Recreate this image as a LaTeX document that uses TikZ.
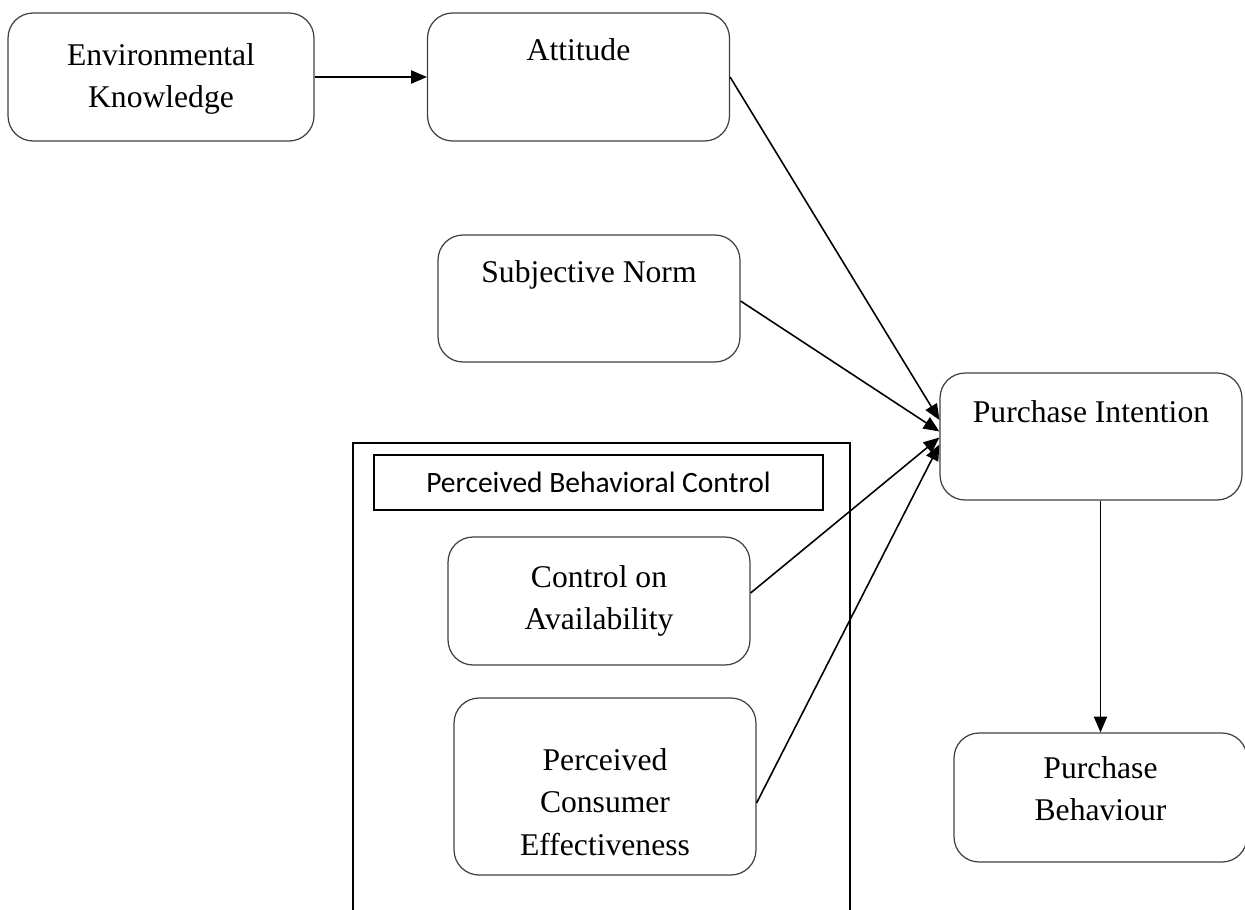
\documentclass[tikz,border=0pt]{standalone}
\usepackage{fontspec}
\setmainfont{Liberation Serif}
\newfontfamily\pbcfont{Carlito}
\usepackage{tikz}
\usetikzlibrary{arrows.meta}

\begin{document}
\begin{tikzpicture}[x=0.02cm,y=-0.02cm,
  box/.style={draw=black!75,line width=0.7pt,rounded corners=0.5cm,minimum width=6.04cm,minimum height=2.56cm,inner sep=0pt},
  boxtxt/.style={anchor=north,inner sep=0pt,align=center,font=\fontsize{18}{24}\selectfont},
  arr/.style={-{Triangle[length=9pt,width=7.5pt]},line width=0.9pt}]
\useasboundingbox (0,0) rectangle (1245,910);
% the frame round perceived behavioral control
\draw[line width=1.2pt] (353,443) rectangle (850,930);
\node[draw,line width=1pt,minimum width=8.98cm,minimum height=1.1cm,font=\pbcfont\fontsize{16.8}{20}\selectfont] (pbc) at (598.5,482.5) {Perceived Behavioral Control};
% boxes
\node[box,minimum width=6.12cm,label={[boxtxt,yshift=-0.62cm]north:Environmental\\Knowledge}] (env) at (161,77) {};
\node[box,label={[boxtxt,yshift=-0.52cm]north:Attitude}] (att) at (578.5,77) {};
\node[box,minimum height=2.54cm,label={[boxtxt,yshift=-0.52cm]north:Subjective Norm}] (sn) at (589,298.5) {};
\node[box,minimum height=2.54cm,label={[boxtxt,yshift=-0.56cm]north:Purchase Intention}] (pi) at (1091,436.5) {};
\node[box,label={[boxtxt,yshift=-0.58cm]north:Control on\\Availability}] (ctrl) at (599,601) {};
\node[box,minimum height=3.54cm,label={[boxtxt,yshift=-1.02cm]north:Perceived\\Consumer\\Effectiveness}] (pce) at (605,786.5) {};
\node[box,minimum width=5.86cm,minimum height=2.58cm,label={[boxtxt,yshift=-0.48cm]north:Purchase\\Behaviour}] (pb) at (1100.5,797.5) {};
% arrows
\draw[arr] (env.east) -- (att.west);
\draw[arr] (att.east) -- ([yshift=0.33cm]pi.west);
\draw[arr] ([yshift=-0.05cm]sn.east) -- ([yshift=0.1cm]pi.west);
\draw[arr] ([yshift=0.16cm]ctrl.east) -- ([yshift=-0.02cm]pi.west);
\draw[arr] ([yshift=-0.33cm]pce.east) -- ([yshift=-0.16cm]pi.west);
\draw[arr] (pb.north |- pi.south) -- (pb.north);
\end{tikzpicture}
\end{document}
